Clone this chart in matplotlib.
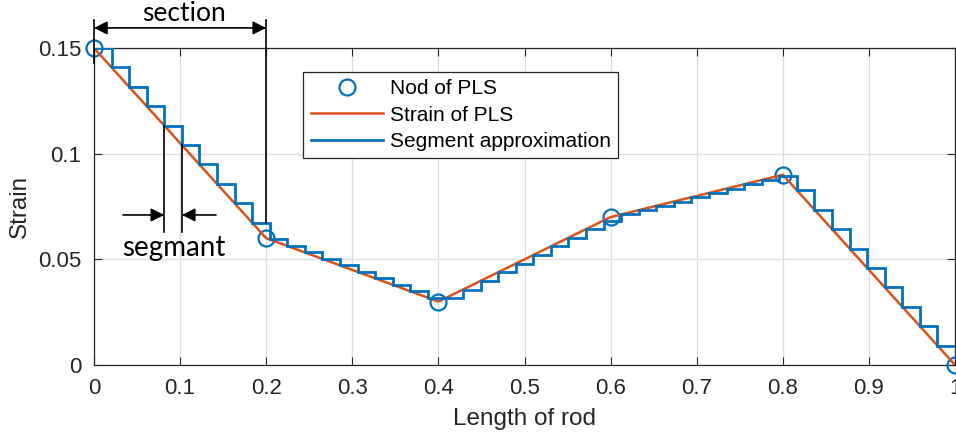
import matplotlib.pyplot as plt
import numpy as np

# piecewise linear strain (PLS) nodes along the rod
node_x = [0.0, 0.2, 0.4, 0.6, 0.8, 1.0]
node_strain = [0.15, 0.06, 0.03, 0.07, 0.09, 0.0]

# 49 equal segments, each holding the strain at its left end
n_segments = 49
segment_strain = [
    0.15000, 0.14082, 0.13163, 0.12245, 0.11327, 0.10408, 0.09490, 0.08571,
    0.07653, 0.06735, 0.05939, 0.05633, 0.05327, 0.05020, 0.04714, 0.04408,
    0.04102, 0.03796, 0.03490, 0.03184, 0.03163, 0.03571, 0.03980, 0.04388,
    0.04796, 0.05204, 0.05612, 0.06020, 0.06429, 0.06837, 0.07122, 0.07327,
    0.07531, 0.07735, 0.07939, 0.08143, 0.08347, 0.08551, 0.08755, 0.08959,
    0.08265, 0.07347, 0.06429, 0.05510, 0.04592, 0.03673, 0.02755, 0.01837,
    0.00918,
]

x_ticks = [0, 0.1, 0.2, 0.3, 0.4, 0.5, 0.6, 0.7, 0.8, 0.9, 1.0]
x_tick_labels = ["0", "0.1", "0.2", "0.3", "0.4", "0.5", "0.6", "0.7", "0.8", "0.9", "1"]
y_ticks = [0, 0.05, 0.1, 0.15]
y_tick_labels = ["0", "0.05", "0.1", "0.15"]

BLUE = "#0072BD"
ORANGE = "#D95319"
AXC = "#262626"

plt.rcParams["font.family"] = ["Liberation Sans", "DejaVu Sans"]

edges = np.linspace(0, 1, n_segments + 1)

fig = plt.figure(figsize=(9.56, 4.42), dpi=100)
ax = fig.add_axes([0.0983, 0.1742, 0.9007, 0.7172])

ax.plot(node_x, node_strain, "o", ls="none", ms=11.5, mfc="none",
        mec=BLUE, mew=1.6, clip_on=False, zorder=3, label="Nod of PLS")
ax.plot(node_x, node_strain, color=ORANGE, lw=1.8, zorder=4,
        label="Strain of PLS")
ax.stairs(segment_strain, edges, baseline=None, color=BLUE, lw=2.0,
          zorder=5, label="Segment approximation")

ax.set_xlim(0, 1)
ax.set_ylim(0, 0.15)
ax.set_xticks(x_ticks, x_tick_labels)
ax.set_yticks(y_ticks, y_tick_labels)
ax.tick_params(direction="in", length=6, width=0.8, colors=AXC,
               labelsize=16, top=True, right=True, pad=9)
for sp in ax.spines.values():
    sp.set_color(AXC)
    sp.set_linewidth(0.9)
ax.grid(True, color="#dedede", lw=0.9)
ax.set_axisbelow(True)

ax.set_xlabel("Length of rod", fontsize=17.5, color=AXC, labelpad=7)
ax.set_ylabel("Strain", fontsize=17.5, color=AXC, labelpad=5)

leg = ax.legend(loc="upper left", bbox_to_anchor=(0.243, 0.924),
                fontsize=15, fancybox=False, framealpha=1,
                edgecolor=AXC, handlelength=3.5, handletextpad=0.3,
                labelspacing=0.35, borderpad=0.35, borderaxespad=0)
leg.get_frame().set_linewidth(0.9)

# annotations: section span and one segment width
kw = dict(color="black", lw=1.2, clip_on=False, zorder=6)
ax.plot([node_x[0], node_x[0]], [0.1633, 0.1429], **kw)
ax.plot([node_x[1], node_x[1]], [0.1633, segment_strain[9]], **kw)
ax.annotate("", xy=(node_x[1], 0.1595), xytext=(node_x[0], 0.1595),
            arrowprops=dict(arrowstyle="<|-|>", color="black", lw=1.2,
                            mutation_scale=20, shrinkA=0, shrinkB=0),
            annotation_clip=False)
ax.text(0.104, 0.1662, "section", family="Lato", fontsize=19,
        ha="center", va="center", clip_on=False)

ax.plot([edges[4], edges[4]], [segment_strain[4], 0.0629], **kw)
ax.plot([edges[5], edges[5]], [segment_strain[5], 0.0629], **kw)
ax.annotate("", xy=(edges[4], 0.071), xytext=(0.0337, 0.071),
            arrowprops=dict(arrowstyle="-|>", color="black", lw=1.2,
                            mutation_scale=20, shrinkA=0, shrinkB=0))
ax.annotate("", xy=(edges[5], 0.071), xytext=(0.1417, 0.071),
            arrowprops=dict(arrowstyle="-|>", color="black", lw=1.2,
                            mutation_scale=20, shrinkA=0, shrinkB=0))
ax.text(0.093, 0.0555, "segmant", family="Lato", fontsize=20,
        ha="center", va="center")

fig.savefig("out.png", dpi=100)
